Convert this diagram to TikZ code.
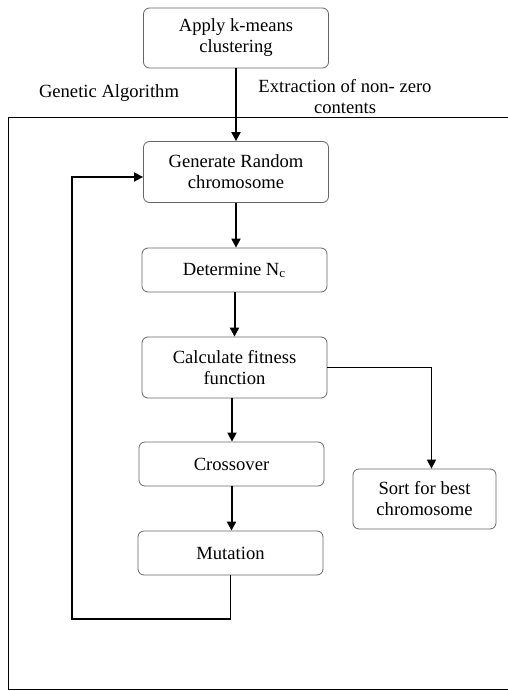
\documentclass[tikz,border=0pt]{standalone}
\usepackage{fontspec}
\setmainfont{Liberation Serif}
\usetikzlibrary{arrows.meta}
\begin{document}
\begin{tikzpicture}[x=0.5pt, y=-0.5pt,
    every node/.style={font=\fontsize{9.3}{10.5}\selectfont},
    stage/.style={draw=black!60, line width=0.4pt, rounded corners=3pt, align=center,
      minimum width=92.5pt, inner sep=0pt},
    arr/.style={line width=1pt, -{Triangle[length=4.5pt, width=4.5pt]}}]
  \useasboundingbox (0,0) rectangle (508,691);
  % Genetic algorithm frame
  \draw[line width=0.5pt] (508,117) -- (8,117) -- (8,689) -- (508,689);
  \node (galabel) at (109,93) {Genetic Algorithm};
  \node[align=center] (extract) at (345,97) {Extraction of non- zero\\contents};
  % Stages
  \node[stage, minimum height=30pt] (kmeans) at (236,38) {Apply k-means\\clustering};
  \node[stage, minimum height=30.5pt] (gen) at (236,172) {Generate Random\\chromosome};
  \node[stage, minimum height=22pt] (det) at (234.5,270) {Determine N\textsubscript{c}};
  \node[stage, minimum height=30.5pt] (calc) at (234.5,367.5) {Calculate fitness\\function};
  \node[stage, minimum height=22pt] (cross) at (231.5,464) {Crossover};
  \node[stage, minimum height=22pt] (mut) at (230.5,553) {Mutation};
  \node[stage, minimum width=71.5pt, minimum height=30pt] (sort) at (424.5,499) {Sort for best\\chromosome};
  % Connectors
  \draw[arr] (kmeans.south) -- (kmeans.south |- gen.north);
  \draw[arr] (gen.south) -- (gen.south |- det.north);
  \draw[arr] (det.south) -- (det.south |- calc.north);
  \draw[arr] ([xshift=-1.25pt]calc.south) -- ([xshift=-1.25pt]calc.south |- cross.north);
  \draw[arr] (cross.south) -- (cross.south |- mut.north);
  \draw[arr, line width=0.7pt] (calc.east) -| ([xshift=3.5pt]sort.north);
  % Loop back to a new population
  \coordinate (back) at (72,619);
  \draw[arr, line width=0.8pt] (mut.south) |- (back) |- ([yshift=-2.5pt]gen.west);
\end{tikzpicture}
\end{document}
